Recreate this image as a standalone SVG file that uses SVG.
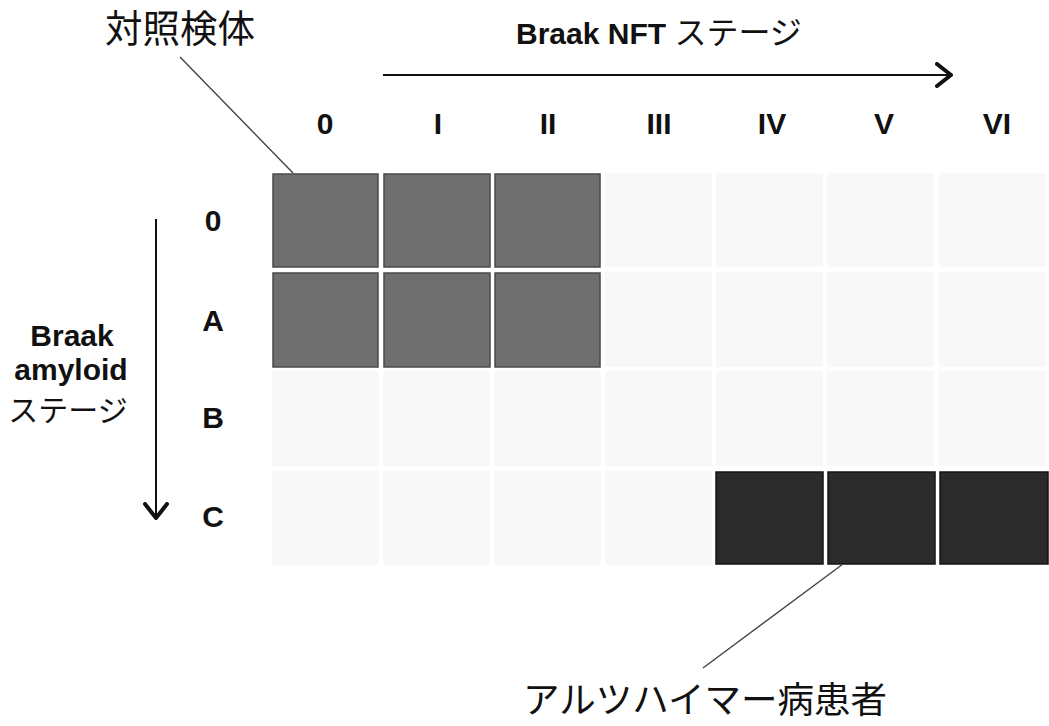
<svg xmlns="http://www.w3.org/2000/svg" width="1049" height="726" viewBox="0 0 1049 726">
  <style>
    .lbl { font-family: "Liberation Sans", Arial, sans-serif; font-weight: bold; font-size: 30px; fill: #111; }
    .jp { font-family: "Noto Sans CJK JP", "Noto Sans", sans-serif; font-weight: normal; fill: #111; }
    .empty { fill: #f8f8f8; }
    .ctrl { fill: #6f6f6f; stroke: #4a4a4a; stroke-width: 1.5; }
    .ad { fill: #2b2b2b; stroke: #151515; stroke-width: 1.5; }
    .lead { stroke: #444; stroke-width: 1.4; fill: none; }
    .axis { stroke: #111; stroke-width: 2; fill: none; }
  </style>
  <defs>
    <marker id="chev" viewBox="0 0 18 26" refX="16" refY="13" markerWidth="18" markerHeight="26" markerUnits="userSpaceOnUse" orient="auto">
      <path d="M2,2 L16,13 L2,24" fill="none" stroke="#111" stroke-width="4" stroke-linecap="round" stroke-linejoin="round"/>
    </marker>
  </defs>
  <rect width="1049" height="726" fill="#ffffff"/>

  <g id="title-nft">
    <text class="lbl" x="516" y="44" font-size="32">Braak NFT <tspan class="jp" font-size="32" font-weight="500">ステージ</tspan></text>
  </g>

  <g id="col-labels" class="lbl" text-anchor="middle" font-size="31">
    <text x="325" y="134">0</text>
    <text x="438" y="134">I</text>
    <text x="548" y="134">II</text>
    <text x="659" y="134">III</text>
    <text x="772" y="134">IV</text>
    <text x="884" y="134">V</text>
    <text x="997" y="134">VI</text>
  </g>

  <g id="row-labels" class="lbl" text-anchor="middle">
    <text x="213" y="231">0</text>
    <text x="213" y="331">A</text>
    <text x="213" y="428">B</text>
    <text x="213" y="527">C</text>
  </g>

  <g id="title-amyloid" text-anchor="middle">
    <text class="lbl" x="72" y="346" font-size="31">Braak</text>
    <text class="lbl" x="71" y="380" font-size="31">amyloid</text>
    <text class="jp" x="68" y="421" font-size="30" font-weight="bold">ステージ</text>
  </g>

  <g id="grid-empty">
    <rect class="empty" x="605" y="173" width="107" height="94"/>
    <rect class="empty" x="716" y="173" width="107" height="94"/>
    <rect class="empty" x="827" y="173" width="107" height="94"/>
    <rect class="empty" x="939" y="173" width="107" height="94"/>
    <rect class="empty" x="605" y="272" width="107" height="95"/>
    <rect class="empty" x="716" y="272" width="107" height="95"/>
    <rect class="empty" x="827" y="272" width="107" height="95"/>
    <rect class="empty" x="939" y="272" width="107" height="95"/>
    <rect class="empty" x="272" y="371" width="107" height="95"/>
    <rect class="empty" x="383" y="371" width="107" height="95"/>
    <rect class="empty" x="494" y="371" width="107" height="95"/>
    <rect class="empty" x="605" y="371" width="107" height="95"/>
    <rect class="empty" x="716" y="371" width="107" height="95"/>
    <rect class="empty" x="827" y="371" width="107" height="95"/>
    <rect class="empty" x="939" y="371" width="107" height="95"/>
    <rect class="empty" x="272" y="471" width="107" height="94"/>
    <rect class="empty" x="383" y="471" width="107" height="94"/>
    <rect class="empty" x="494" y="471" width="107" height="94"/>
    <rect class="empty" x="605" y="471" width="107" height="94"/>
  </g>

  <g id="control-cells">
    <rect class="ctrl" x="273" y="174" width="105" height="93"/>
    <rect class="ctrl" x="384" y="174" width="106" height="93"/>
    <rect class="ctrl" x="495" y="174" width="105" height="93"/>
    <rect class="ctrl" x="273" y="273" width="105" height="94"/>
    <rect class="ctrl" x="384" y="273" width="106" height="94"/>
    <rect class="ctrl" x="495" y="273" width="105" height="94"/>
  </g>

  <g id="ad-cells">
    <rect class="ad" x="716" y="472" width="107" height="92"/>
    <rect class="ad" x="828" y="472" width="107" height="92"/>
    <rect class="ad" x="940" y="472" width="108" height="92"/>
  </g>

  <g id="label-control">
    <text class="jp" x="105" y="42" font-size="37.5">対照検体</text>
  </g>

  <g id="label-ad">
    <text class="jp" x="523" y="713" font-size="36.5">アルツハイマー病患者</text>
  </g>

  <g id="connectors">
    <line class="axis" x1="383" y1="75" x2="951" y2="75" marker-end="url(#chev)"/>
    <line class="axis" x1="156" y1="219" x2="156" y2="518" marker-end="url(#chev)"/>
    <line class="lead" x1="180" y1="57" x2="293" y2="173"/>
    <line class="lead" x1="703" y1="668" x2="843" y2="564"/>
  </g>
</svg>
